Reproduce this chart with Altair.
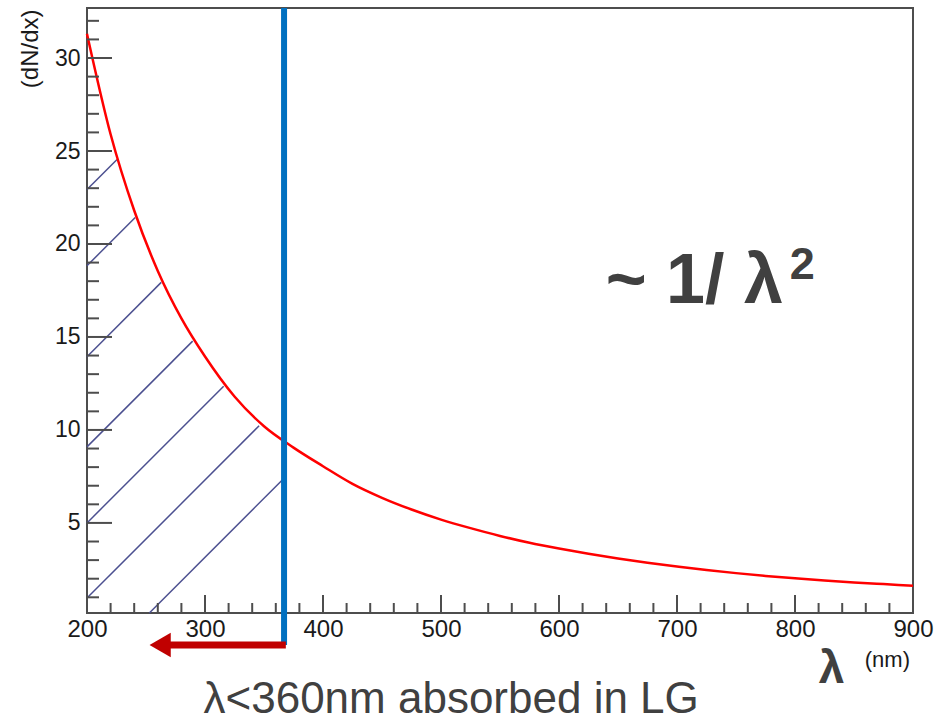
import altair as alt
import numpy as np
import pandas as pd

# ---------------- data ----------------
wavelength = [200, 220, 240, 260, 280, 300, 325, 350, 375, 400, 425, 450, 475, 500,
              525, 550, 575, 600, 625, 650, 675, 700, 725, 750, 775, 800, 825, 850,
              875, 900]
dndx = [31.3, 25.9, 21.8, 18.55, 16.0, 13.95, 11.8, 10.2, 9.05, 8.05, 7.1, 6.35, 5.72,
        5.18, 4.72, 4.3, 3.93, 3.62, 3.34, 3.09, 2.86, 2.66, 2.47, 2.3, 2.15, 2.02, 1.9,
        1.8, 1.71, 1.62]

x_major = [200, 300, 400, 500, 600, 700, 800, 900]
x_minor = [v for v in range(220, 900, 20) if v % 100]
y_major = [5, 10, 15, 20, 25, 30]
y_minor = [v for v in range(1, 33) if v % 5]

X_MIN, X_MAX = 200, 900
Y_MIN, Y_MAX = 0.156, 32.69
CUTOFF = 367          # nm, blue line
ARROW_TIP = 253       # nm
ARROW_Y = -1.57       # level of arrow (below the axis)

# hatch lines: intercept (dN/dx at 200 nm) and common slope (per nm)
hatch_intercepts = [22.93, 18.83, 13.94, 9.09, 5.0, 0.96, -3.2]
hatch_slope = 0.0635

# ---------------- layout ----------------
PLOT_W, PLOT_H = 826, 605
px_per_nm = PLOT_W / (X_MAX - X_MIN)
px_per_unit = PLOT_H / (Y_MAX - Y_MIN)

FONT = "Liberation Sans"
TXT = "#404040"

curve = pd.DataFrame({"x": wavelength, "y": dndx})

# hatch segments (clipped by axis bottom, the curve and the cutoff line)
grid = np.linspace(X_MIN, CUTOFF, 2000)
cur = np.interp(grid, wavelength, dndx)
rows = []
for b in hatch_intercepts:
    x0 = X_MIN if b >= Y_MIN else X_MIN + (Y_MIN - b) / hatch_slope
    line = b + hatch_slope * (grid - X_MIN)
    mask = (grid >= x0) & (line >= cur - 0.25)
    x1 = grid[mask][0] if mask.any() else CUTOFF
    rows.append({"x": x0, "y": b + hatch_slope * (x0 - X_MIN),
                 "x2": x1, "y2": b + hatch_slope * (x1 - X_MIN)})
hatch = pd.DataFrame(rows)

# inner ticks (ROOT style)
ticks = []
for v in y_major:
    ticks.append({"x": X_MIN, "x2": X_MIN + 25 / px_per_nm, "y": v, "y2": v})
for v in y_minor:
    ticks.append({"x": X_MIN, "x2": X_MIN + 12 / px_per_nm, "y": v, "y2": v})
for v in x_major:
    ticks.append({"x": v, "x2": v, "y": Y_MIN, "y2": Y_MIN + 18 / px_per_unit})
for v in x_minor:
    ticks.append({"x": v, "x2": v, "y": Y_MIN, "y2": Y_MIN + 10 / px_per_unit})
ticks = pd.DataFrame(ticks)

xs = alt.Scale(domain=[X_MIN, X_MAX], nice=False, zero=False)
ys = alt.Scale(domain=[Y_MIN, Y_MAX], nice=False, zero=False)
x_axis = alt.Axis(values=x_major, title=None, ticks=False, domain=False, grid=False,
                  labelFont=FONT, labelFontSize=24, labelColor="#1a1a1a",
                  labelPadding=4, labelFlush=False)
y_axis = alt.Axis(values=y_major, title="(dN/dx)", ticks=False, domain=False, grid=False,
                  labelFont=FONT, labelFontSize=23, labelColor="#1a1a1a",
                  labelPadding=7, titleFont=FONT, titleFontSize=24,
                  titleFontWeight="normal", titleColor="#1a1a1a", titleAngle=270,
                  titleAlign="right", titleBaseline="middle", titleX=-57, titleY=1)


def X(f):
    return alt.X(f, type="quantitative", scale=xs, axis=x_axis)


def Y(f):
    return alt.Y(f, type="quantitative", scale=ys, axis=y_axis)


def XD(v):
    return alt.XDatum(v, type="quantitative", scale=xs, axis=x_axis)


def YD(v):
    return alt.YDatum(v, type="quantitative", scale=ys, axis=y_axis)


one = alt.InlineData(values=[{}])

hatch_layer = alt.Chart(hatch).mark_rule(color="#4c5090", strokeWidth=1.5).encode(
    x=X("x"), y=Y("y"), x2="x2", y2="y2")

curve_layer = alt.Chart(curve).mark_line(color="#ff0000", strokeWidth=2.5,
                                         interpolate="monotone").encode(
    x=X("x"), y=Y("y"))

tick_layer = alt.Chart(ticks).mark_rule(color="#4d4d4d", strokeWidth=2).encode(
    x=X("x"), y=Y("y"), x2="x2", y2="y2")

blue_layer = alt.Chart(one).mark_rule(color="#0070c0", strokeWidth=6).encode(
    x=XD(CUTOFF), y=YD(Y_MAX), y2=alt.Y2Datum(ARROW_Y))

head_size = 600
head_len_nm = 0.866 * np.sqrt(head_size) / px_per_nm
arrow_shaft = alt.Chart(one).mark_rule(color="#c00000", strokeWidth=7).encode(
    x=XD(ARROW_TIP + head_len_nm / 2), x2=alt.X2Datum(CUTOFF + 1.5), y=YD(ARROW_Y))
arrow_head = alt.Chart(one).mark_point(shape="triangle-left", filled=True, opacity=1,
                                       color="#c00000", size=head_size, strokeWidth=0).encode(
    x=XD(ARROW_TIP + head_len_nm / 2), y=YD(ARROW_Y))


def label(text, x, y, size, weight="normal", align="left", color=TXT):
    return alt.Chart(one).mark_text(text=text, font=FONT, fontSize=size, fontWeight=weight,
                                    align=align, baseline="alphabetic", color=color).encode(
        x=XD(x), y=YD(y))


layers = [
    hatch_layer, curve_layer, tick_layer, blue_layer, arrow_shaft, arrow_head,
    label("~ 1/ λ", 639.6, 16.84, 70, "bold"),
    label("2", 795.5, 18.1, 45, "bold"),
    label("λ<360nm absorbed in LG", 508.6, -5.2, 44, "normal", "center"),
    label("λ", 830.9, -3.61, 46, "bold", "center"),
    label("(nm)", 859.1, -2.75, 22, "normal", "left", "#1a1a1a"),
]

chart = alt.layer(*layers).properties(
    width=PLOT_W, height=PLOT_H,
    padding={"left": 87, "top": 8, "right": 31, "bottom": 105},
    autosize=alt.AutoSizeParams(type="none"),
    background="white",
).configure_view(stroke="#4d4d4d", strokeWidth=2)

chart.save("out.html", embed_options={"renderer": "svg", "actions": False})
